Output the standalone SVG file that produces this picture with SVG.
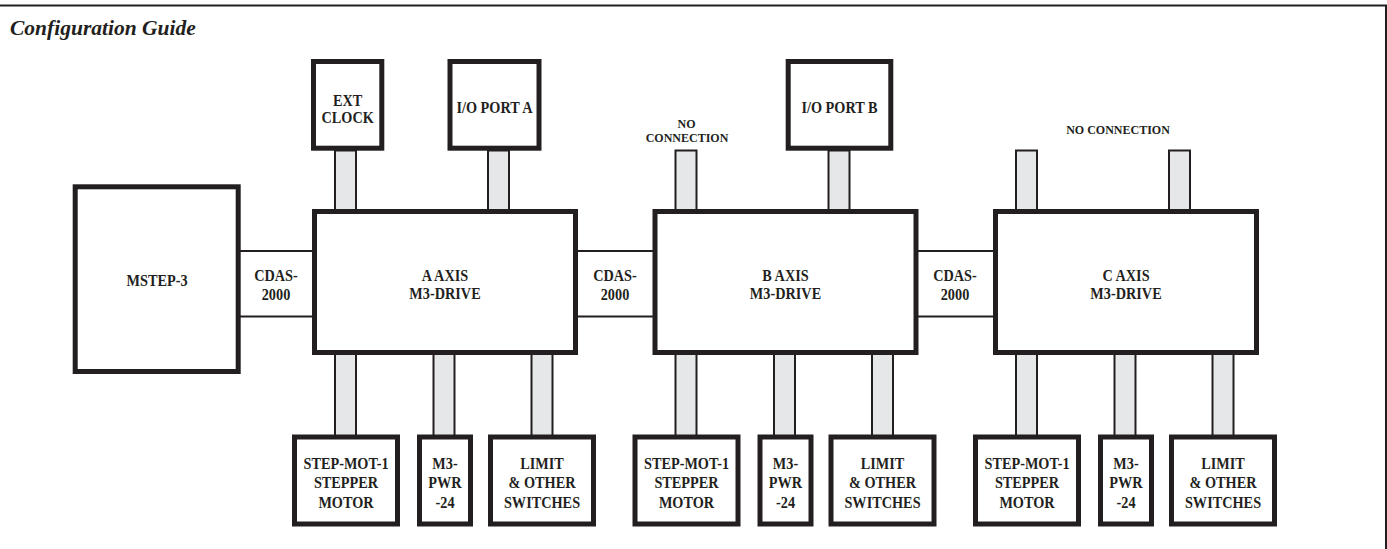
<svg xmlns="http://www.w3.org/2000/svg" width="1387" height="549" viewBox="0 0 1387 549">
<style>
.box{fill:#fff;stroke:#231f20;stroke-width:5}
.bar{fill:#e6e7e8;stroke:#231f20;stroke-width:2}
.ln{stroke:#231f20;stroke-width:2;fill:none}
.t{font-family:"Liberation Serif","Times New Roman",serif;font-weight:bold;font-size:17px;fill:#231f20;text-anchor:middle}
.s{font-family:"Liberation Serif","Times New Roman",serif;font-weight:bold;font-size:12px;fill:#231f20;text-anchor:middle}
.title{font-family:"Liberation Serif","Times New Roman",serif;font-weight:bold;font-style:italic;font-size:21.5px;fill:#231f20}
</style>
<rect width="1387" height="549" fill="#fff"/>
<g id="frame">
<line class="ln" x1="0" y1="5.5" x2="1387" y2="5.5" stroke-width="2.5"/>
<line class="ln" x1="1386" y1="5" x2="1386" y2="549"/>
<text class="title" x="10" y="35">Configuration Guide</text>
</g>
<g id="connectors">
<line class="ln" x1="238" y1="251" x2="314" y2="251"/>
<line class="ln" x1="238" y1="316.5" x2="314" y2="316.5"/>
<line class="ln" x1="575" y1="251" x2="655" y2="251"/>
<line class="ln" x1="575" y1="316.5" x2="655" y2="316.5"/>
<line class="ln" x1="915" y1="251" x2="996" y2="251"/>
<line class="ln" x1="915" y1="316.5" x2="996" y2="316.5"/>
<g transform="translate(276 0) scale(0.84 1)"><text class="t" x="0" y="281">CDAS-</text><text class="t" x="0" y="300">2000</text></g>
<g transform="translate(615 0) scale(0.84 1)"><text class="t" x="0" y="281">CDAS-</text><text class="t" x="0" y="300">2000</text></g>
<g transform="translate(955 0) scale(0.84 1)"><text class="t" x="0" y="281">CDAS-</text><text class="t" x="0" y="300">2000</text></g>
<rect class="bar" x="335" y="150.5" width="21" height="60"/>
<rect class="bar" x="488" y="150.5" width="21" height="60"/>
<rect class="bar" x="675.5" y="150.5" width="21" height="60"/>
<rect class="bar" x="828.5" y="150.5" width="21" height="60"/>
<rect class="bar" x="1016" y="150.5" width="21" height="60"/>
<rect class="bar" x="1169" y="150.5" width="21" height="60"/>
<rect class="bar" x="335" y="353" width="21" height="83"/>
<rect class="bar" x="433.5" y="353" width="21" height="83"/>
<rect class="bar" x="531.5" y="353" width="21" height="83"/>
<rect class="bar" x="675.5" y="353" width="21" height="83"/>
<rect class="bar" x="774" y="353" width="21" height="83"/>
<rect class="bar" x="872" y="353" width="21" height="83"/>
<rect class="bar" x="1016" y="353" width="21" height="83"/>
<rect class="bar" x="1114.5" y="353" width="21" height="83"/>
<rect class="bar" x="1212.5" y="353" width="21" height="83"/>
<text class="s" x="686.5" y="127.5">NO</text>
<text class="s" x="687" y="141.5">CONNECTION</text>
<text class="s" x="1118" y="134">NO CONNECTION</text>
</g>
<g id="mstep3"><rect class="box" x="75.2" y="186.8" width="163" height="184.7"/>
<g transform="translate(157 0) scale(0.84 1)"><text class="t" x="0" y="286">MSTEP-3</text></g></g>
<g id="extclock"><rect class="box" x="313.5" y="61.5" width="68.3" height="86.7"/>
<g transform="translate(347.7 0) scale(0.84 1)"><text class="t" x="0" y="106">EXT</text><text class="t" x="0" y="123.5">CLOCK</text></g></g>
<g id="ioporta"><rect class="box" x="450" y="61.5" width="89" height="86.7"/>
<g transform="translate(494.5 0) scale(0.84 1)"><text class="t" x="0" y="113">I/O PORT A</text></g></g>
<g id="ioportb"><rect class="box" x="788.2" y="61.5" width="102.6" height="86.7"/>
<g transform="translate(839.5 0) scale(0.84 1)"><text class="t" x="0" y="113">I/O PORT B</text></g></g>
<g id="aaxis"><rect class="box" x="314.5" y="211.5" width="261" height="141"/>
<g transform="translate(445 0) scale(0.84 1)"><text class="t" x="0" y="281">A AXIS</text><text class="t" x="0" y="299.5">M3-DRIVE</text></g></g>
<g id="baxis"><rect class="box" x="655" y="211.5" width="261" height="141"/>
<g transform="translate(785.5 0) scale(0.84 1)"><text class="t" x="0" y="281">B AXIS</text><text class="t" x="0" y="299.5">M3-DRIVE</text></g></g>
<g id="caxis"><rect class="box" x="995.5" y="211.5" width="261" height="141"/>
<g transform="translate(1126 0) scale(0.84 1)"><text class="t" x="0" y="281">C AXIS</text><text class="t" x="0" y="299.5">M3-DRIVE</text></g></g>
<g id="motor-a"><rect class="box" x="294.5" y="437" width="103" height="87"/>
<g transform="translate(346 0) scale(0.84 1)"><text class="t" x="0" y="469">STEP-MOT-1</text><text class="t" x="0" y="488.5">STEPPER</text><text class="t" x="0" y="508">MOTOR</text></g></g>
<g id="pwr-a"><rect class="box" x="419.5" y="437" width="51" height="87"/>
<g transform="translate(445 0) scale(0.84 1)"><text class="t" x="0" y="469">M3-</text><text class="t" x="0" y="488.5">PWR</text><text class="t" x="0" y="508">-24</text></g></g>
<g id="limit-a"><rect class="box" x="490.5" y="437" width="103" height="87"/>
<g transform="translate(542 0) scale(0.84 1)"><text class="t" x="0" y="469">LIMIT</text><text class="t" x="0" y="488.5">&amp; OTHER</text><text class="t" x="0" y="508">SWITCHES</text></g></g>
<g id="motor-b"><rect class="box" x="635" y="437" width="103" height="87"/>
<g transform="translate(686.5 0) scale(0.84 1)"><text class="t" x="0" y="469">STEP-MOT-1</text><text class="t" x="0" y="488.5">STEPPER</text><text class="t" x="0" y="508">MOTOR</text></g></g>
<g id="pwr-b"><rect class="box" x="760" y="437" width="51" height="87"/>
<g transform="translate(785.5 0) scale(0.84 1)"><text class="t" x="0" y="469">M3-</text><text class="t" x="0" y="488.5">PWR</text><text class="t" x="0" y="508">-24</text></g></g>
<g id="limit-b"><rect class="box" x="831" y="437" width="103" height="87"/>
<g transform="translate(882.5 0) scale(0.84 1)"><text class="t" x="0" y="469">LIMIT</text><text class="t" x="0" y="488.5">&amp; OTHER</text><text class="t" x="0" y="508">SWITCHES</text></g></g>
<g id="motor-c"><rect class="box" x="975.5" y="437" width="103" height="87"/>
<g transform="translate(1027 0) scale(0.84 1)"><text class="t" x="0" y="469">STEP-MOT-1</text><text class="t" x="0" y="488.5">STEPPER</text><text class="t" x="0" y="508">MOTOR</text></g></g>
<g id="pwr-c"><rect class="box" x="1100.5" y="437" width="51" height="87"/>
<g transform="translate(1126 0) scale(0.84 1)"><text class="t" x="0" y="469">M3-</text><text class="t" x="0" y="488.5">PWR</text><text class="t" x="0" y="508">-24</text></g></g>
<g id="limit-c"><rect class="box" x="1171.5" y="437" width="103" height="87"/>
<g transform="translate(1223 0) scale(0.84 1)"><text class="t" x="0" y="469">LIMIT</text><text class="t" x="0" y="488.5">&amp; OTHER</text><text class="t" x="0" y="508">SWITCHES</text></g></g>
</svg>
